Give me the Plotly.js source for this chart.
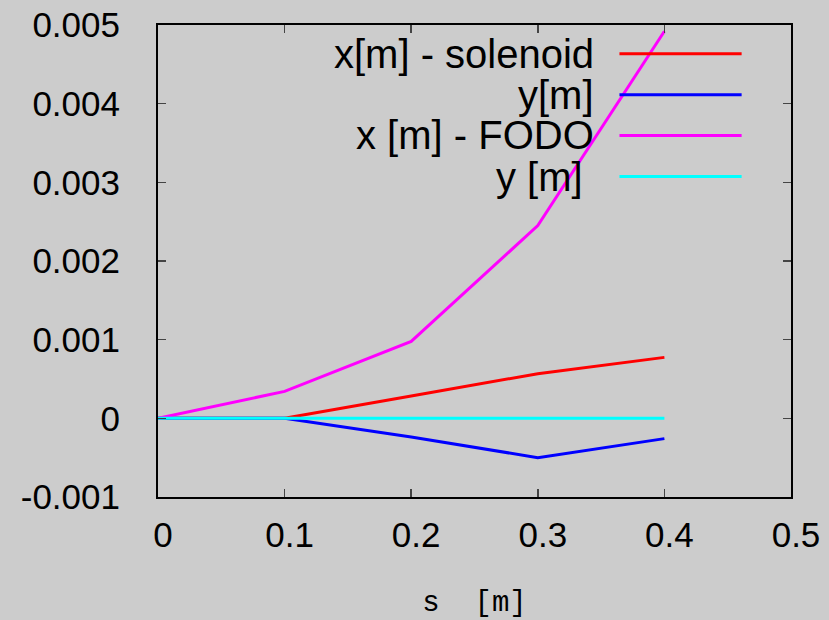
<!DOCTYPE html>
<html>
<head>
<meta charset="utf-8">
<script src="https://cdn.plot.ly/plotly-3.0.1.min.js"></script>
<style>html,body{margin:0;padding:0;background:#cccccc;}#chart{width:829px;height:620px;}</style>
</head>
<body>
<div id="chart"></div>
<script>
// Data
const s = [0, 0.1, 0.2, 0.3, 0.4];
const xSolenoid = [0, 0, 0.000283, 0.000568, 0.000775];
const ySolenoid = [0, 0, -0.000237, -0.0005, -0.000258];
const xFodo = [0, 0.000343, 0.000978, 0.00245, 0.00492];
const yFodo = [0, 0, 0, 0, 0];
const seriesNames = ['x[m] - solenoid', 'y[m]', 'x [m] - FODO', 'y [m]'];
const seriesColors = ['#ff0000', '#0000ff', '#ff00ff', '#00ffff'];
const seriesData = [xSolenoid, ySolenoid, xFodo, yFodo];
const xTicks = [0, 0.1, 0.2, 0.3, 0.4, 0.5];
const xTickLabels = ['0', '0.1', '0.2', '0.3', '0.4', '0.5'];
const yTicks = [-0.001, 0, 0.001, 0.002, 0.003, 0.004, 0.005];
const yTickLabels = ['-0.001', '0', '0.001', '0.002', '0.003', '0.004', '0.005'];

const traces = seriesData.map((d, i) => ({
  x: s, y: d, type: 'scatter', mode: 'lines', name: seriesNames[i],
  line: {color: seriesColors[i], width: 3}, showlegend: false
}));

// manual gnuplot-style legend (text left of sample line)
const legRows = [0.939, 0.852, 0.766, 0.679];
const textRight = [0.6917, 0.6917, 0.6917, 0.6743];
const annotations = seriesNames.map((n, i) => ({
  xref: 'paper', yref: 'paper', x: textRight[i], y: legRows[i],
  xanchor: 'right', yanchor: 'middle', text: n, showarrow: false,
  font: {family: 'Liberation Sans, Arial, sans-serif', size: 40, color: '#000'}
}));
const shapes = seriesColors.map((c, i) => ({
  type: 'line', xref: 'paper', yref: 'paper', x0: 0.729, x1: 0.922,
  y0: legRows[i], y1: legRows[i], line: {color: c, width: 3}
}));

const axisCommon = {
  showline: true, linecolor: '#000', linewidth: 2, mirror: 'ticks',
  ticks: 'inside', ticklen: 8, tickwidth: 1.5, tickcolor: '#444',
  showgrid: false, zeroline: false,
  tickfont: {family: 'Liberation Sans, Arial, sans-serif', size: 35, color: '#000'}
};

const layout = {
  width: 829, height: 620,
  paper_bgcolor: '#cccccc', plot_bgcolor: '#cccccc',
  margin: {l: 158, r: 38, t: 25, b: 123},
  xaxis: Object.assign({}, axisCommon, {
    range: [0, 0.5], tickvals: xTicks, ticktext: xTickLabels,
    ticklabelstandoff: 6, ticklabelshift: 5,
    title: {text: 's\u00a0\u00a0[m]', standoff: 39,
      font: {family: 'Liberation Mono, Courier New, monospace', size: 29, color: '#000'}}
  }),
  yaxis: Object.assign({}, axisCommon, {
    range: [-0.001, 0.005], tickvals: yTicks, ticktext: yTickLabels,
    ticklabelstandoff: 29
  }),
  annotations: annotations,
  shapes: shapes,
  showlegend: false
};

Plotly.newPlot('chart', traces, layout, {displayModeBar: false, staticPlot: true});
</script>
</body>
</html>
